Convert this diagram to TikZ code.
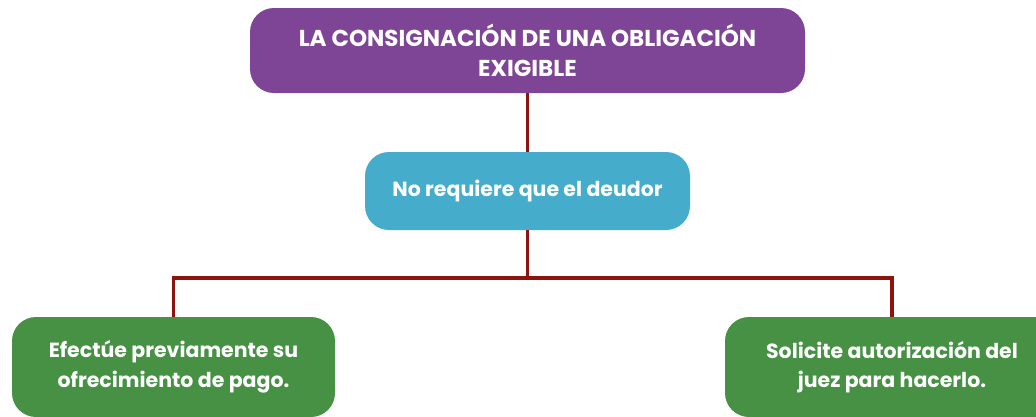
\documentclass[tikz,border=0pt]{standalone}
\usepackage{fontspec}
\setmainfont{Poppins}
\definecolor{titlepurple}{RGB}{126,68,150}
\definecolor{midcyan}{RGB}{69,173,203}
\definecolor{leafgreen}{RGB}{71,145,69}
\definecolor{linkred}{RGB}{140,20,12}
\tikzset{
  box/.style={rounded corners=24pt, text=white, align=center, inner sep=0pt,
    font=\bfseries\fontsize{20.5}{29.5}\selectfont},
  titlebox/.style={box, font=\bfseries\fontsize{23}{30}\selectfont},
  link/.style={draw=linkred, line width=3.5pt}
}
\begin{document}
\begin{tikzpicture}[x=1pt, y=-1pt]
    % Fix the size of the picture
    \useasboundingbox (0,0) rectangle (1036,416);
    \clip (0,0) rectangle (1036,416);

    % Title box
    \node[titlebox, fill=titlepurple, minimum width=555pt, minimum height=85pt] (title) at (527.5, 50.5)
      {LA CONSIGNACIÓN DE UNA OBLIGACIÓN\\EXIGIBLE};

    % Middle box
    \node[box, fill=midcyan, minimum width=325pt, minimum height=78pt] (deudor) at (527.5, 191)
      {No requiere que el deudor};

    % Split point for the two branches
    \coordinate (split) at (527.5, 278);

    % Bottom boxes
    \node[box, fill=leafgreen, minimum width=323pt, minimum height=100pt] (pago) at (173.5, 367)
      {Efectúe previamente su\\ofrecimiento de pago.};
    \node[box, fill=leafgreen, minimum width=334pt, minimum height=100pt] (juez) at (892, 367)
      {Solicite autorización del\\juez para hacerlo.};

    % Connectors
    \draw[link] (title) -- (deudor);
    \draw[link] (deudor) -- (split);
    \draw[link] (split) -| (pago);
    \draw[link] (split) -| (juez);
  \end{tikzpicture}
\end{document}
